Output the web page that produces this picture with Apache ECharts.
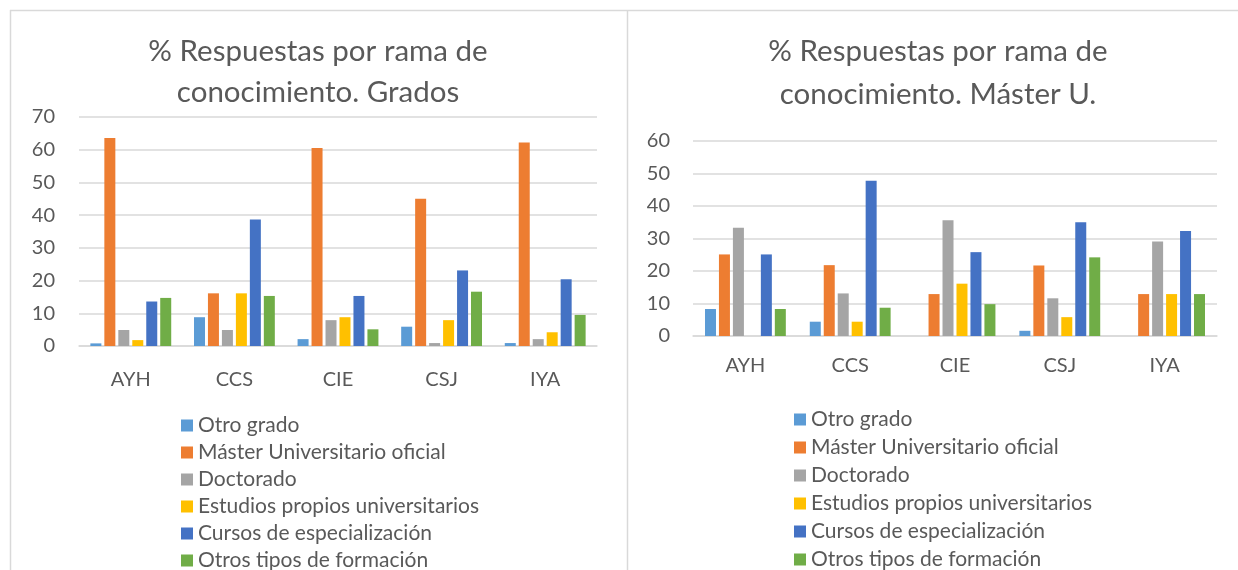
<!DOCTYPE html>
<html>
<head>
<meta charset="utf-8">
<script src="https://cdn.jsdelivr.net/npm/echarts@6/dist/echarts.min.js"></script>
<style>
  html, body { margin: 0; padding: 0; background: #fff; }
  #chart { width: 1238px; height: 570px; }
</style>
</head>
<body>
<div id="chart"></div>
<script>
const categories = ['AYH', 'CCS', 'CIE', 'CSJ', 'IYA'];
const seriesNames = [
  'Otro grado',
  'Máster Universitario oficial',
  'Doctorado',
  'Estudios propios universitarios',
  'Cursos de especialización',
  'Otros tipos de formación',
];
const colors = ['#5B9BD5', '#ED7D31', '#A5A5A5', '#FFC000', '#4472C4', '#70AD47'];

// Grados
const gradoOtro = [0.8, 8.8, 2.1, 5.9, 0.9];
const gradoMaster = [63.6, 16.1, 60.5, 45.0, 62.2];
const gradoDoct = [4.9, 4.9, 7.9, 0.9, 2.1];
const gradoEstudios = [1.8, 16.1, 8.8, 7.9, 4.2];
const gradoCursos = [13.6, 38.7, 15.3, 23.1, 20.4];
const gradoOtros = [14.7, 15.3, 5.1, 16.6, 9.5];

// Máster U.
const masterOtro = [8.3, 4.4, 0, 1.6, 0];
const masterMaster = [25.1, 21.8, 12.9, 21.7, 12.9];
const masterDoct = [33.3, 13.1, 35.6, 11.6, 29.1];
const masterEstudios = [0, 4.4, 16.1, 5.8, 12.9];
const masterCursos = [25.1, 47.8, 25.8, 35.0, 32.3];
const masterOtros = [8.3, 8.7, 9.8, 24.2, 12.9];

const gradoData = [gradoOtro, gradoMaster, gradoDoct, gradoEstudios, gradoCursos, gradoOtros];
const masterData = [masterOtro, masterMaster, masterDoct, masterEstudios, masterCursos, masterOtros];

const font = 'Lato, "Open Sans", sans-serif';
const textColor = '#595959';
const lineColor = '#d9d9d9';

function makeSeries(data, idx) {
  return data.map((values, i) => ({
    name: seriesNames[i],
    type: 'bar',
    xAxisIndex: idx,
    yAxisIndex: idx,
    data: values,
    barWidth: 11,
    barGap: '27%',
    itemStyle: { color: colors[i] },
  }));
}

function xAxis(idx, margin) {
  return {
    type: 'category',
    gridIndex: idx,
    data: categories,
    axisLine: { lineStyle: { color: lineColor, width: 1.5 } },
    axisTick: { show: false },
    axisLabel: { color: textColor, fontSize: 20, fontFamily: font, margin: margin },
  };
}

function yAxis(idx, max, margin) {
  return {
    type: 'value',
    gridIndex: idx,
    min: 0,
    max: max,
    interval: 10,
    axisLine: { show: false },
    axisTick: { show: false },
    splitLine: { lineStyle: { color: lineColor, width: 1.5 } },
    axisLabel: { color: textColor, fontSize: 20, fontFamily: font, margin: margin },
  };
}

function legend(left, top, gap) {
  return {
    orient: 'vertical',
    left: left,
    top: top,
    height: 220,
    padding: 0,
    itemWidth: 12,
    itemHeight: 12,
    itemGap: gap,
    icon: 'rect',
    data: seriesNames,
    selectedMode: false,
    textStyle: { color: textColor, fontSize: 21, fontFamily: font, lineHeight: 20 },
  };
}

const chart = echarts.init(document.getElementById('chart'));
chart.setOption({
  animation: false,
  color: colors,
  title: [
    {
      text: '% Respuestas por rama de\nconocimiento. Grados',
      left: 318,
      top: 31,
      textAlign: 'center',
      padding: 0,
      textStyle: { color: textColor, fontSize: 29.5, fontWeight: 'normal', fontFamily: font, lineHeight: 41 },
    },
    {
      text: '% Respuestas por rama de\nconocimiento. Máster U.',
      left: 938,
      top: 30,
      textAlign: 'center',
      padding: 0,
      textStyle: { color: textColor, fontSize: 29.5, fontWeight: 'normal', fontFamily: font, lineHeight: 43 },
    },
  ],
  legend: [legend(181, 415, 6), legend(794, 409, 7)],
  grid: [
    { left: 79, top: 117, width: 518, height: 229 },
    { left: 693, top: 141, width: 524, height: 195 },
  ],
  xAxis: [xAxis(0, 24), xAxis(1, 20)],
  yAxis: [yAxis(0, 70, 24), yAxis(1, 60, 23)],
  series: makeSeries(gradoData, 0).concat(makeSeries(masterData, 1)),
  graphic: [
    { type: 'line', shape: { x1: 10, y1: 10.5, x2: 1238, y2: 10.5 }, style: { stroke: lineColor, lineWidth: 1.5 } },
    { type: 'line', shape: { x1: 10.5, y1: 10, x2: 10.5, y2: 570 }, style: { stroke: lineColor, lineWidth: 1.5 } },
    { type: 'line', shape: { x1: 627.5, y1: 10, x2: 627.5, y2: 570 }, style: { stroke: lineColor, lineWidth: 1.5 } },
  ],
});
</script>
</body>
</html>
